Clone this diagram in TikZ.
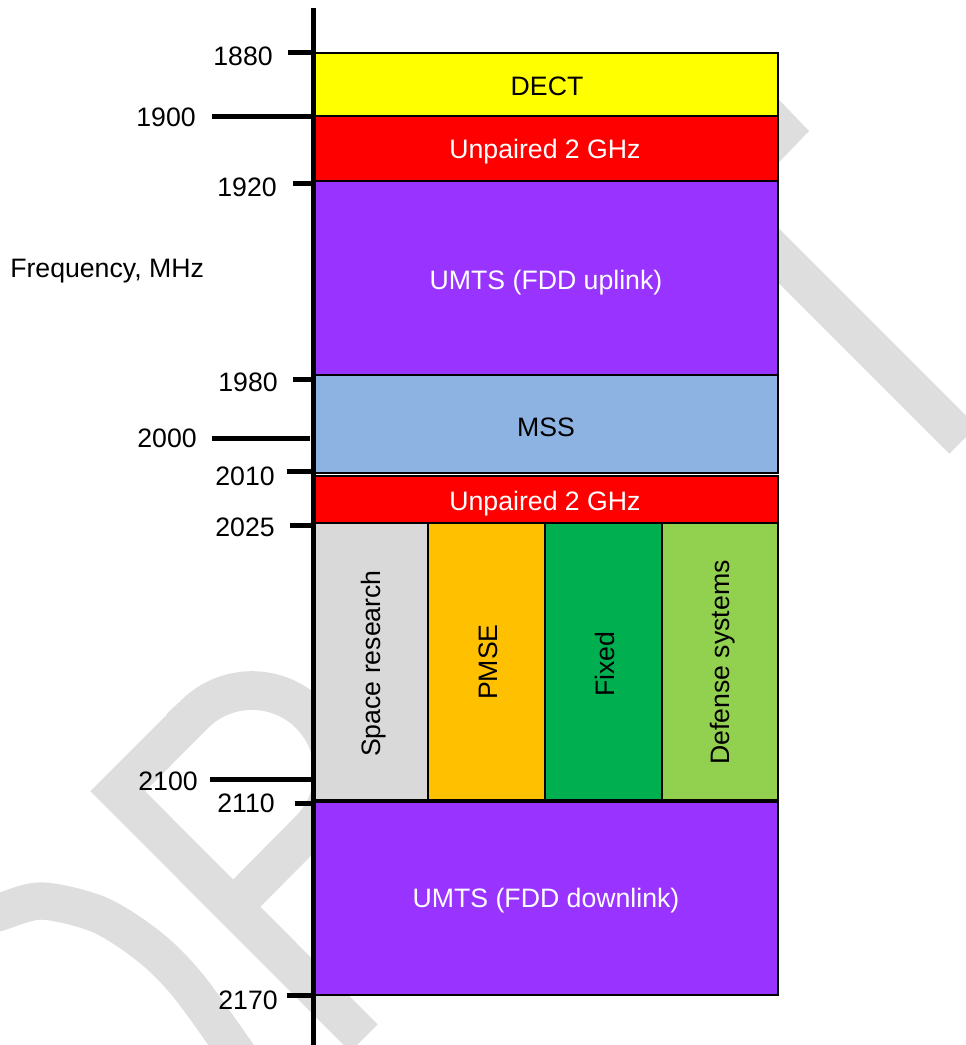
\documentclass[tikz,border=0pt]{standalone}
\usepackage{fontspec}
\setmainfont{Liberation Sans}
\definecolor{wm}{RGB}{222,222,222}
\definecolor{cyel}{RGB}{255,255,0}
\definecolor{cred}{RGB}{255,0,0}
\definecolor{cpur}{RGB}{153,51,255}
\definecolor{cmss}{RGB}{141,179,226}
\definecolor{cspace}{RGB}{217,217,217}
\definecolor{cpmse}{RGB}{255,192,0}
\definecolor{cfixed}{RGB}{0,176,80}
\definecolor{cdef}{RGB}{146,208,80}
\begin{document}
\begin{tikzpicture}[x=0.75pt,y=-0.75pt,
  band/.style={draw=black,line width=1.6pt},
  lbl/.style={font=\fontsize{20}{24}\selectfont, inner sep=0pt},
  wlbl/.style={lbl,text=white},
  tickline/.style={line width=3.75pt, line cap=butt},
  wmstroke/.style={draw=wm, line width=29pt, line join=miter, line cap=butt}]
\useasboundingbox (0,0) rectangle (966,1045);
\clip (0,0) rectangle (966,1045);
% watermark
\draw[wmstroke] (364,1038) -- (117.75,791.25) -- (194.4,714.4) -- plot[domain=225:405,samples=50] ({252+81.5*cos(\x)},{772+81.5*sin(\x)}) -- (233.25,906.75);
\draw[wmstroke, line width=28pt, line join=round] plot[smooth] coordinates {(-30,922) (0,912) (42,901) (100,915) (151,948) (190,988) (245,1065)};
\fill[wm] (760,80) -- (809,131) -- (760,182) -- cycle;
\draw[wmstroke] (700,177) -- (963,440);
% bands
\draw[band, fill=cyel] (315,53) rectangle (778,116);
\draw[band, fill=cred] (315,116) rectangle (778,181);
\draw[band, fill=cpur] (315,181) rectangle (778,375);
\draw[band, fill=cmss] (315,375) rectangle (778,473);
\draw[band, fill=cred] (315,476) rectangle (778,523);
\draw[band, fill=cspace] (315,523) rectangle (428,800);
\draw[band, fill=cpmse] (428,523) rectangle (545,800);
\draw[band, fill=cfixed] (545,523) rectangle (662,800);
\draw[band, fill=cdef] (662,523) rectangle (778,800);
\draw[band, fill=cpur] (315,802) rectangle (778,995);
% band labels
\node[lbl, anchor=base] (dect) at (547,96) {DECT};
\node[wlbl, anchor=base] (unp1) at (545,158.5) {Unpaired 2 GHz};
\node[wlbl, anchor=base] (umtsup) at (546,289.5) {UMTS (FDD uplink)};
\node[lbl, anchor=base] (mss) at (546,436.5) {MSS};
\node[wlbl, anchor=base] (unp2) at (545,510.5) {Unpaired 2 GHz};
\node[lbl, anchor=base, rotate=90] (space) at (380,663.5) {Space research};
\node[lbl, anchor=base, rotate=90] (pmse) at (497,662) {PMSE};
\node[lbl, anchor=base, rotate=90] (fixed) at (614,664) {Fixed};
\node[lbl, anchor=base, rotate=90] (defense) at (729,662.5) {Defense systems};
\node[wlbl, anchor=base] (umtsdown) at (546,907.5) {UMTS (FDD downlink)};
% ticks
\draw[tickline] (288,53) -- (313,53);
\draw[tickline] (212,117) -- (313,117);
\draw[tickline] (293,183) -- (313,183);
\draw[tickline] (293,379) -- (313,379);
\draw[tickline] (212,438) -- (310,438);
\draw[tickline] (287,471) -- (313,471);
\draw[tickline] (290,525) -- (313,525);
\draw[tickline] (210,779) -- (313,779);
\draw[tickline] (295,803) -- (313,803);
\draw[tickline] (287,995) -- (313,995);
% axis
\draw[line width=3.75pt] (313,8) -- (313,1050);
% tick labels
\node[lbl, anchor=east] (l1880) at (273,56) {1880};
\node[lbl, anchor=east] (l1900) at (196,117) {1900};
\node[lbl, anchor=east] (l1920) at (277,187) {1920};
\node[lbl, anchor=east] (l1980) at (278,382) {1980};
\node[lbl, anchor=east] (l2000) at (197,438) {2000};
\node[lbl, anchor=east] (l2010) at (275,476) {2010};
\node[lbl, anchor=east] (l2025) at (275,527) {2025};
\node[lbl, anchor=east] (l2100) at (198,781) {2100};
\node[lbl, anchor=east] (l2110) at (275,803) {2110};
\node[lbl, anchor=east] (l2170) at (278,1000) {2170};
\node[lbl, anchor=base west] (freq) at (10,277) {Frequency, MHz};
\end{tikzpicture}
\end{document}
